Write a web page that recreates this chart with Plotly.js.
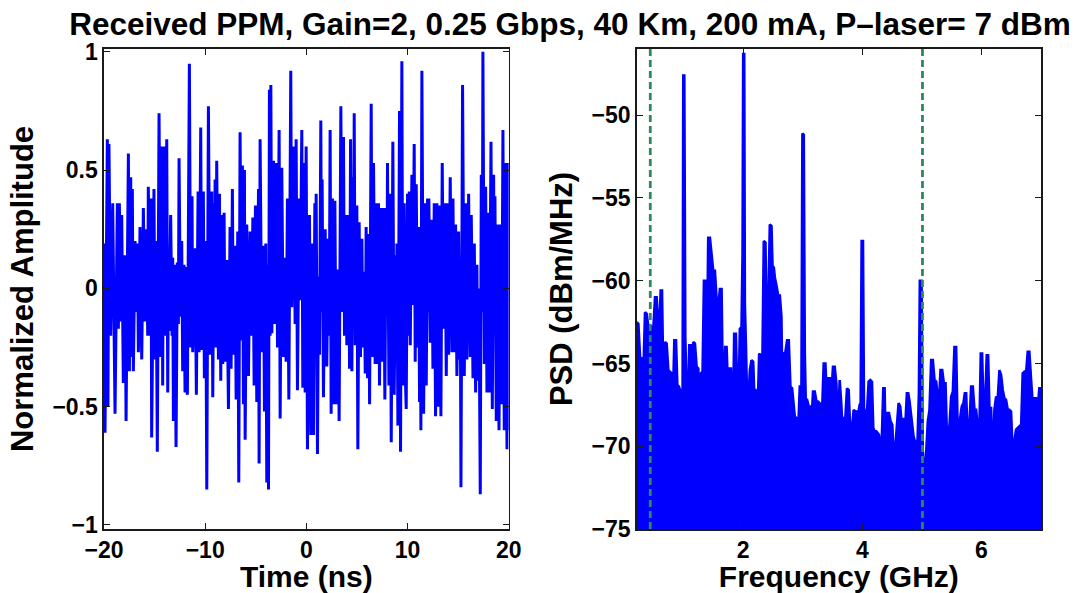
<!DOCTYPE html>
<html>
<head>
<meta charset="utf-8">
<script src="https://cdn.plot.ly/plotly-3.0.1.min.js"></script>
<style>html,body{margin:0;padding:0;background:#fff;}</style>
</head>
<body>
<div id="chart" style="width:1075px;height:593px;"></div>
<script>
// ---- Left panel: received signal (time in ns, normalized amplitude) ----
const timeNs = [
-20.00,-19.90,-19.67,-19.61,-19.51,-19.34,-19.14,-18.91,-18.68,-18.58,
-18.48,-18.35,-18.25,-18.09,-17.92,-17.82,-17.59,-17.49,-17.36,-17.26,
-17.20,-17.10,-16.93,-16.77,-16.70,-16.60,-16.44,-16.27,-16.11,-15.95,
-15.78,-15.68,-15.62,-15.45,-15.35,-15.29,-15.06,-14.96,-14.86,-14.73,
-14.56,-14.40,-14.26,-14.20,-14.10,-13.97,-13.80,-13.70,-13.64,-13.57,
-13.41,-13.27,-13.21,-13.14,-13.01,-12.88,-12.75,-12.65,-12.58,-12.45,
-12.32,-12.22,-12.09,-11.99,-11.89,-11.76,-11.56,-11.43,-11.30,-11.23,
-11.00,-10.87,-10.70,-10.60,-10.44,-10.34,-10.18,-10.08,
-9.96,-9.84,-9.68,-9.51,-9.35,-9.25,-9.12,-9.07,-9.02,-8.92,
-8.86,-8.69,-8.59,-8.46,-8.36,-8.26,-8.13,-8.03,-7.87,-7.70,
-7.54,-7.44,-7.31,-7.21,-7.04,-6.94,-6.78,-6.68,-6.55,-6.42,
-6.32,-6.22,-6.12,-6.05,-5.89,-5.72,-5.56,-5.39,-5.29,-5.16,
-5.03,-4.90,-4.73,-4.67,-4.57,-4.40,-4.24,-4.14,-4.01,-3.91,
-3.81,-3.74,-3.65,-3.58,-3.51,-3.41,-3.25,-3.15,-2.99,-2.85,
-2.69,-2.59,-2.43,-2.26,-2.10,-2.00,-1.87,-1.73,-1.54,-1.44,
-1.27,-1.11,-1.01,-0.88,-0.71,-0.61,-0.45,-0.35,-0.22,-0.12,
-0.02,0.11,0.31,0.44,0.57,0.71,0.84,0.90,0.97,1.10,
1.20,1.30,1.43,1.50,1.56,1.69,1.86,2.02,2.16,2.26,
2.35,2.45,2.58,2.68,2.82,2.95,3.11,3.24,3.41,3.54,
3.67,3.77,3.90,4.00,4.17,4.27,4.37,4.50,4.60,4.66,
4.73,4.83,4.99,5.09,5.22,5.35,5.49,5.59,5.72,5.82,
5.91,6.05,6.15,6.25,6.41,6.51,6.64,6.80,6.90,7.04,
7.13,7.23,7.37,7.50,7.63,7.76,7.89,7.96,8.02,8.16,
8.29,8.39,8.55,8.68,8.82,8.88,8.95,9.05,9.21,9.31,
9.44,9.54,9.67,9.77,
9.87,10.00,10.10,10.17,10.27,10.43,10.53,10.66,10.76,10.86,
10.99,11.09,11.19,11.26,11.32,11.42,11.59,11.75,11.85,11.98,
12.05,12.11,12.24,12.41,12.51,12.64,12.77,12.90,13.04,13.17,
13.30,13.43,13.56,13.70,13.83,13.96,14.06,14.22,14.39,14.49,
14.62,14.75,14.88,15.05,15.15,15.21,15.28,15.44,15.61,15.74,
15.87,16.04,16.20,16.30,16.47,16.60,16.73,16.86,16.93,17.06,
17.19,17.29,17.39,17.45,17.59,17.72,17.85,17.98,18.08,18.25,
18.38,18.51,18.58,18.64,18.77,18.90,19.04,19.17,19.30,19.43,
19.56,19.70,19.83,19.96,20.00
];
const amplitude = [
0.19,-0.61,0.63,-0.50,0.61,-0.20,0.36,-0.53,0.36,-0.17,
0.36,-0.14,0.31,-0.40,0.14,-0.56,0.57,-0.35,0.47,-0.29,
0.42,-0.35,0.20,-0.10,0.19,-0.27,0.26,-0.30,0.34,-0.14,
0.25,-0.20,0.43,-0.20,0.38,-0.63,0.42,-0.30,0.20,-0.69,
0.74,-0.29,0.60,-0.41,0.60,-0.20,0.63,-0.44,0.05,-0.18,
0.31,-0.20,0.13,-0.56,0.10,-0.67,0.11,-0.15,0.55,-0.12,
0.20,-0.35,0.10,-0.44,0.09,-0.45,0.95,-0.25,0.39,-0.27,
0.17,-0.45,0.41,-0.27,0.68,-0.26,0.41,-0.38,
0.20,-0.85,0.77,-0.28,0.41,-0.46,0.36,-0.10,0.46,-0.25,
0.54,-0.30,0.40,-0.39,0.31,-0.32,0.32,-0.31,0.12,-0.51,
0.26,-0.34,0.42,-0.28,0.18,-0.47,0.24,-0.82,0.66,-0.22,
0.52,-0.49,0.50,-0.64,0.27,-0.37,0.24,-0.20,0.30,-0.41,
0.35,-0.48,0.42,-0.74,0.63,-0.27,0.18,-0.52,0.19,-0.82,
0.10,-0.85,0.84,-0.20,0.86,-0.19,0.54,-0.15,0.53,-0.25,
0.67,-0.55,0.51,-0.29,0.13,-0.31,0.38,-0.47,0.92,-0.08,
0.60,-0.15,0.63,-0.43,0.38,-0.05,0.67,-0.42,0.53,-0.44,
0.60,-0.68,0.31,-0.62,0.19,-0.62,0.36,-0.20,0.40,-0.70,
0.05,-0.28,0.71,-0.10,0.46,-0.46,0.25,-0.33,0.21,-0.20,
0.67,-0.53,0.38,-0.49,0.37,-0.49,0.08,-0.56,0.77,-0.10,
0.64,-0.20,0.31,-0.24,0.31,-0.34,0.63,-0.35,0.47,-0.10,
0.74,-0.24,0.35,-0.68,0.28,-0.29,0.21,-0.25,0.07,-0.36,
0.26,-0.38,0.23,-0.49,0.78,-0.29,0.53,-0.32,0.36,-0.32,
0.36,-0.41,0.34,-0.31,0.34,-0.47,0.34,-0.10,0.53,-0.41,
0.40,-0.65,0.62,-0.45,0.14,-0.30,0.19,-0.58,0.75,-0.69,
0.96,-0.41,0.36,-0.35,
-0.51,0.40,-0.20,0.41,-0.24,0.48,-0.07,0.61,-0.31,0.44,
-0.25,0.26,-0.48,0.10,-0.60,0.92,-0.53,0.36,-0.41,0.38,
-0.10,0.38,-0.23,0.29,-0.34,0.36,-0.54,0.36,-0.50,0.35,
-0.54,0.53,-0.17,0.36,-0.37,0.36,-0.28,0.47,-0.27,0.38,
-0.27,0.27,-0.37,0.24,-0.30,0.10,-0.84,0.86,-0.37,0.36,
-0.30,0.40,-0.29,0.31,-0.38,0.19,-0.44,0.10,-0.39,0.00,
-0.87,0.48,-0.10,1.00,-0.32,0.43,-0.44,0.32,-0.44,0.62,
-0.51,0.48,-0.10,0.39,-0.56,0.27,-0.60,0.27,-0.49,0.67,
-0.60,0.53,-0.68,0.53,-0.60
];

// ---- Right panel: power spectral density (GHz, dBm/MHz) ----
const freqGHz = [
0.212,0.240,0.268,0.296,0.313,0.324,0.335,0.352,0.380,0.408,
0.436,0.464,0.492,0.520,0.547,0.575,0.592,0.615,0.637,0.659,
0.687,0.715,0.743,0.771,0.799,0.827,0.844,0.872,0.894,0.922,
0.950,0.972,0.983,0.994,1.011,1.028,1.050,1.078,1.095,1.123,
1.145,1.162,1.190,1.218,1.246,1.263,1.291,1.318,1.341,1.374,
1.397,1.413,1.441,1.469,1.497,1.525,1.553,1.581,1.609,1.637,
1.654,1.676,1.698,1.721,1.749,1.765,1.793,1.816,1.832,1.849,
1.877,1.899,1.922,1.944,1.972,1.989,2.000,2.017,2.028,2.045,
2.061,2.084,2.112,2.140,2.168,2.184,2.207,2.223,2.246,2.268,
2.291,2.318,2.346,2.374,2.391,2.419,2.447,2.475,2.492,2.514,
2.531,2.559,2.587,2.615,2.642,2.659,2.682,2.709,2.737,2.765,
2.793,2.821,2.838,2.866,2.894,2.922,2.950,2.978,2.994,3.017,
3.034,3.050,3.073,3.101,3.117,3.134,3.156,3.173,3.201,3.229,
3.257,3.285,3.302,3.324,3.352,3.380,3.397,3.425,3.453,3.480,
3.508,3.536,3.564,3.592,
3.620,3.648,3.665,3.687,3.715,3.743,3.771,3.799,3.827,3.855,
3.883,3.911,3.933,3.955,3.972,3.989,4.011,4.028,4.050,4.078,
4.106,4.134,4.162,4.184,4.207,4.235,4.257,4.279,4.302,4.324,
4.352,4.374,4.391,4.419,4.447,4.475,4.503,4.525,4.559,4.581,
4.609,4.637,4.665,4.693,4.721,4.748,4.771,4.793,4.816,4.838,
4.860,4.883,4.905,4.927,4.950,4.966,4.994,5.017,5.045,5.073,
5.100,5.128,5.156,5.184,5.212,5.240,5.268,5.296,5.313,5.341,
5.369,5.397,5.419,5.447,5.464,5.492,5.520,5.547,5.575,5.603,
5.620,5.642,5.670,5.698,5.721,5.743,5.771,5.799,5.827,5.855,
5.883,5.911,5.939,5.966,5.989,6.011,6.034,6.061,6.089,6.112,
6.134,6.162,6.190,6.218,6.246,6.274,6.302,6.330,6.358,6.385,
6.413,6.441,6.469,6.497,6.525,6.553,6.581,6.609,6.637,6.665,
6.693,6.721,6.749,6.777,6.804,6.832,6.860,6.888,6.916,6.944,
6.972,7.000
];
const psdDbmPerMHz = [
-62.5,-62.6,-64.6,-64.7,-67.1,-65.2,-64.8,-61.9,-62.0,-62.8,
-62.7,-62.8,-62.8,-61.0,-61.0,-62.9,-62.8,-60.6,-60.6,-66.1,
-63.7,-63.8,-65.4,-65.5,-65.6,-66.1,-63.6,-63.6,-66.3,-66.4,
-66.7,-66.6,-66.6,-47.6,-47.6,-63.4,-66.7,-66.7,-63.9,-63.9,
-67.8,-63.7,-63.8,-65.2,-65.3,-68.1,-65.6,-65.5,-60.0,-60.0,
-62.8,-57.4,-57.4,-58.4,-59.4,-59.4,-61.1,-61.6,-60.5,-60.5,
-65.4,-65.9,-64.0,-64.0,-66.9,-65.3,-65.3,-67.5,-67.4,-63.2,
-63.2,-66.6,-67.3,-62.9,-62.8,-58.4,-46.3,-46.3,-61.4,-63.8,
-66.4,-67.5,-65.4,-64.8,-64.9,-66.6,-66.6,-66.7,-67.4,-64.4,
-64.5,-66.2,-57.6,-57.7,-62.0,-62.0,-56.6,-56.7,-59.1,-59.2,
-59.8,-60.3,-60.9,-60.9,-62.2,-67.3,-64.4,-64.3,-63.6,-63.6,
-66.4,-66.5,-67.3,-68.2,-68.3,-69.2,-66.4,-66.4,-51.1,-51.2,
-64.3,-67.2,-67.2,-67.6,-67.6,-69.0,-67.8,-66.7,-66.7,-67.3,
-67.3,-67.4,-70.2,-68.0,-65.0,-65.0,-66.4,-65.9,-65.9,-66.8,
-65.2,-65.2,-66.2,-68.8,
-66.0,-67.5,-68.8,-68.3,-68.3,-66.5,-66.6,-69.3,-68.9,-67.8,
-67.9,-67.9,-68.0,-67.5,-67.4,-57.6,-57.6,-67.7,-68.0,-68.0,
-66.1,-66.0,-66.1,-68.9,-69.1,-69.1,-69.2,-69.3,-70.0,-70.0,
-66.5,-66.5,-69.7,-68.0,-68.0,-68.5,-68.7,-70.5,-69.8,-68.5,
-67.4,-67.6,-68.8,-68.3,-68.8,-66.8,-66.8,-67.3,-68.0,-68.8,
-69.4,-69.7,-69.7,-69.7,-66.8,-60.0,-60.0,-71.2,-71.2,-70.3,
-68.5,-67.8,-64.8,-64.8,-66.0,-66.1,-67.1,-66.7,-65.4,-65.4,
-66.2,-66.2,-69.1,-69.2,-68.7,-67.0,-66.7,-64.0,-64.0,-69.4,
-69.5,-68.3,-67.6,-67.4,-66.8,-66.8,-69.6,-68.7,-66.4,-66.4,
-67.8,-67.8,-68.9,-68.9,-64.4,-64.4,-67.6,-67.6,-64.5,-64.5,
-67.7,-67.7,-71.2,-67.8,-67.0,-67.1,-65.4,-65.7,-66.6,-67.1,
-67.2,-67.8,-67.8,-67.9,-70.4,-69.7,-69.0,-68.9,-68.8,-69.0,
-65.6,-65.5,-65.6,-64.3,-64.3,-65.9,-67.4,-67.1,-67.1,-67.8,
-66.5,-66.5
];

// Band-edge markers (GHz) and PSD floor used as fill base
const bandEdgesGHz = [0.44, 5.01];
const psdFloor = -80;

const titleText = 'Received PPM, Gain=2, 0.25 Gbps, 40 Km, 200 mA, P\u2013laser= 7 dBm';

const BLUE = '#0000ff';
const GREEN = '#2a8a5c';

const traces = [
  {
    type: 'scatter', mode: 'lines', x: timeNs, y: amplitude,
    xaxis: 'x', yaxis: 'y',
    line: {color: BLUE, width: 3}, hoverinfo: 'x+y'
  },
  {
    type: 'scatter', mode: 'lines',
    x: [freqGHz[0], freqGHz[freqGHz.length - 1]], y: [psdFloor, psdFloor],
    xaxis: 'x2', yaxis: 'y2', line: {width: 0, color: BLUE}, hoverinfo: 'skip'
  },
  {
    type: 'scatter', mode: 'lines', x: freqGHz, y: psdDbmPerMHz,
    xaxis: 'x2', yaxis: 'y2', fill: 'tonexty', fillcolor: BLUE,
    line: {color: BLUE, width: 2.6}
  }
];
bandEdgesGHz.forEach(f => {
  traces.push({
    type: 'scatter', mode: 'lines', x: [f, f], y: [-75, -46],
    xaxis: 'x2', yaxis: 'y2',
    line: {color: GREEN, width: 2.8, dash: '7px,4px'}, hoverinfo: 'skip'
  });
});

const FONT = 'Liberation Sans, Arial, Helvetica, sans-serif';
const tickFont = {family: FONT, size: 23, color: '#000', weight: 'bold'};
const labFont = {family: FONT, size: 30, color: '#000', weight: 'bold'};

function axisBase() {
  return {
    showline: true, linecolor: '#1a1a1a', linewidth: 1.6, mirror: 'ticks',
    ticks: 'inside', ticklen: 6, tickwidth: 1, tickcolor: '#1a1a1a',
    showgrid: false, zeroline: false, tickfont: tickFont, fixedrange: true
  };
}

const yDom = [1 - 529 / 593, 1 - 49 / 593];

const layout = {
  width: 1075, height: 593,
  margin: {l: 0, r: 0, t: 0, b: 0},
  paper_bgcolor: '#fff', plot_bgcolor: '#fff',
  showlegend: false,
  font: {family: FONT, color: '#000'},
  title: {
    text: titleText, font: {family: FONT, size: 31.5, color: '#000', weight: 'bold'},
    x: 570 / 1075, xanchor: 'center', y: 1 - 24 / 593, yanchor: 'middle'
  },
  xaxis: Object.assign(axisBase(), {
    domain: [104 / 1075, 508.7 / 1075], range: [-20, 20],
    tickvals: [-20, -10, 0, 10, 20], anchor: 'y',
    title: {text: 'Time (ns)', font: labFont, standoff: 7}
  }),
  yaxis: Object.assign(axisBase(), {
    domain: yDom, range: [-1.017, 1.012],
    tickvals: [-1, -0.5, 0, 0.5, 1], anchor: 'x',
    title: {text: 'Normalized Amplitude', font: {family: FONT, size: 31, color: '#000', weight: 'bold'}, standoff: 9}
  }),
  xaxis2: Object.assign(axisBase(), {
    domain: [636.7 / 1075, 1041 / 1075], range: [0.212, 7.0],
    tickvals: [2, 4, 6], anchor: 'y2',
    title: {text: 'Frequency (GHz)', font: labFont, standoff: 7}
  }),
  yaxis2: Object.assign(axisBase(), {
    domain: yDom, range: [-75, -46],
    tickvals: [-75, -70, -65, -60, -55, -50], anchor: 'x2',
    title: {text: 'PSD (dBm/MHz)', font: {family: FONT, size: 31, color: '#000', weight: 'bold'}, standoff: 9}
  })
};

Plotly.newPlot('chart', traces, layout, {displayModeBar: false, staticPlot: true});
</script>
</body>
</html>
